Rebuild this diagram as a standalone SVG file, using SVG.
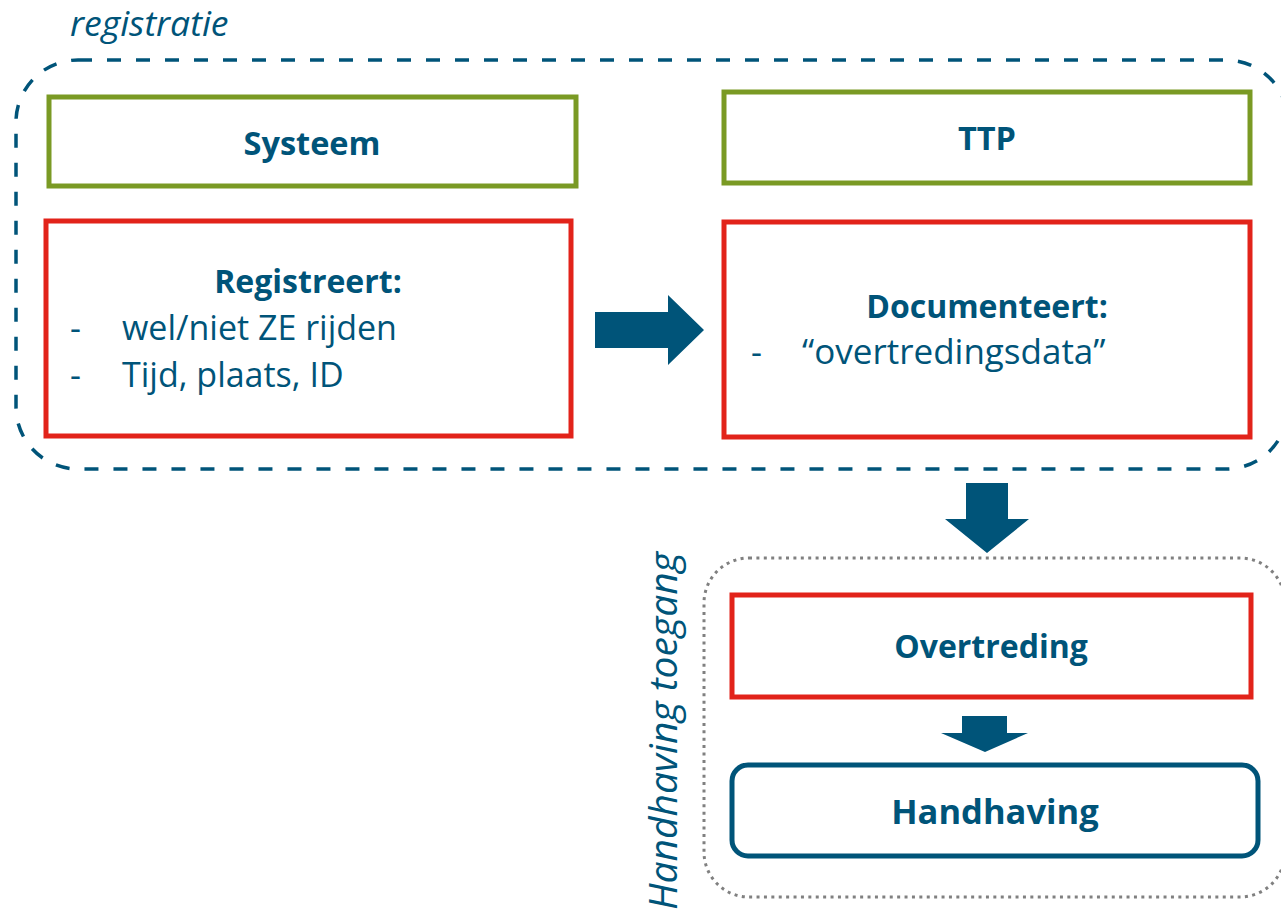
<svg xmlns="http://www.w3.org/2000/svg" width="1281" height="915" viewBox="0 0 1281 915">
  <style>
    .lbl { font-family: "Open Sans", Lato, "Liberation Sans", sans-serif; fill: #005479; }
    .bold { font-weight: 700; }
    .ital { font-style: italic; }
    .green { fill: #ffffff; stroke: #7a9a24; stroke-width: 5; }
    .red { fill: #ffffff; stroke: #e2231a; stroke-width: 5; }
    .blue { fill: #ffffff; stroke: #005479; stroke-width: 5; }
    .arrow { fill: #005479; }
  </style>
  <rect width="1281" height="915" fill="#ffffff"/>

  <!-- registratie group frame -->
  <g id="registratie">
    <rect x="16" y="60" width="1272" height="409" rx="62" fill="none" stroke="#005479" stroke-width="3.5" stroke-dasharray="14 15"/>
    <text class="lbl ital" x="70" y="36" font-size="35.5">registratie</text>
  </g>

  <!-- handhaving toegang group frame -->
  <g id="handhaving-toegang">
    <rect x="704" y="558" width="581" height="339" rx="45" fill="none" stroke="#808080" stroke-width="3" stroke-dasharray="3 4.4"/>
    <text class="lbl ital" transform="translate(677 731) rotate(-90)" text-anchor="middle" font-size="39">Handhaving toegang</text>
  </g>

  <g id="systeem">
    <rect class="green" x="49" y="97" width="527" height="89"/>
    <text class="lbl bold" x="312" y="155" text-anchor="middle" font-size="32.5">Systeem</text>
  </g>

  <g id="ttp">
    <rect class="green" x="724" y="92" width="526" height="91"/>
    <text class="lbl bold" x="987" y="150" text-anchor="middle" font-size="32.5">TTP</text>
  </g>

  <g id="registreert">
    <rect class="red" x="46" y="221" width="525" height="215"/>
    <text class="lbl bold" x="308" y="293" text-anchor="middle" font-size="32">Registreert:</text>
    <text class="lbl" x="70" y="340" font-size="34">-</text>
    <text class="lbl" x="122" y="340" font-size="34">wel/niet ZE rijden</text>
    <text class="lbl" x="70" y="387" font-size="34">-</text>
    <text class="lbl" x="122" y="387" font-size="34">Tijd, plaats, ID</text>
  </g>

  <g id="documenteert">
    <rect class="red" x="724" y="222" width="526" height="215"/>
    <text class="lbl bold" x="987" y="318" text-anchor="middle" font-size="32">Documenteert:</text>
    <text class="lbl" x="751" y="364" font-size="34">-</text>
    <text class="lbl" x="802" y="364" font-size="35">“overtredingsdata”</text>
  </g>

  <g id="overtreding">
    <rect class="red" x="732" y="595" width="519" height="102"/>
    <text class="lbl bold" x="991" y="658" text-anchor="middle" font-size="32">Overtreding</text>
  </g>

  <g id="handhaving">
    <rect class="blue" x="732" y="765" width="526" height="91" rx="16"/>
    <text class="lbl bold" x="995" y="824" text-anchor="middle" font-size="34.5">Handhaving</text>
  </g>

  <!-- block arrows between the stages -->
  <g id="connectors">
    <polygon class="arrow" points="595,312 668,312 668,295 704,330 668,365 668,348 595,348"/>
    <polygon class="arrow" points="966,483 1008,483 1008,519 1029,519 987,553 945,519 966,519"/>
    <polygon class="arrow" points="962,716 1007,716 1007,733 1028,733 985,752 941,733 962,733"/>
  </g>
</svg>
